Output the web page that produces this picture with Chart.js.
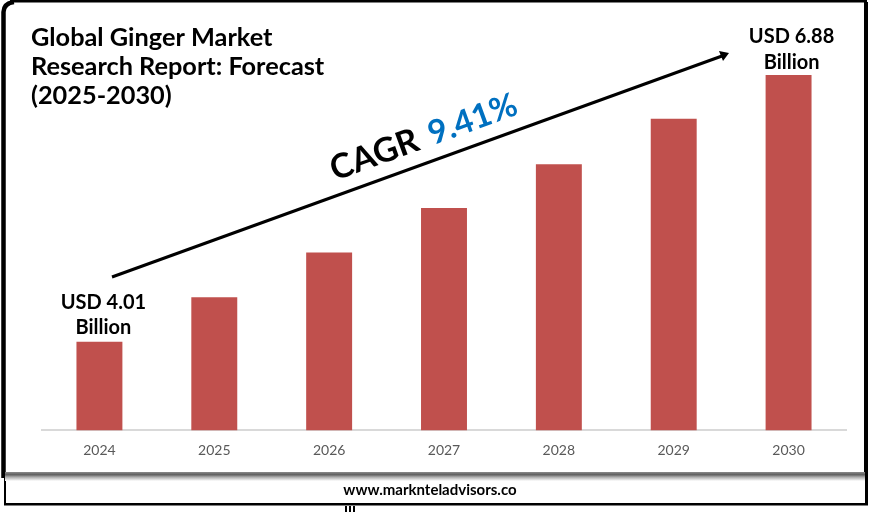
<!DOCTYPE html>
<html>
<head>
<meta charset="utf-8">
<title>Global Ginger Market</title>
<script src="https://cdn.jsdelivr.net/npm/chart.js@4"></script>
<style>
    html, body { margin: 0; padding: 0; background: #fff; }
    #wrap { position: relative; width: 870px; height: 523px; }
</style>
</head>
<body>
<div id="wrap"><canvas id="chart" width="870" height="523"></canvas></div>
<script>
const years = ["2024", "2025", "2026", "2027", "2028", "2029", "2030"];
const marketSize = [4.01, 4.49, 4.97, 5.45, 5.92, 6.41, 6.88];
const titleLines = ["Global Ginger Market", "Research Report: Forecast", "(2025-2030)"];
const firstLabel = ["USD 4.01", "Billion"];
const lastLabel = ["USD 6.88", "Billion"];
const cagrWord = "CAGR";
const cagrValue = "9.41%";
const siteName = "www.marknteladvisors.co";

const FONT = "Lato, 'Open Sans', sans-serif";

function drawLines(ctx, lines, x, y, step) {
    lines.forEach((line, i) => ctx.fillText(line, x, y + i * step));
}

// frame, title, arrow and labels sit on top of the bars
const decorations = {
    id: "decorations",
    afterDatasetsDraw(chart) {
        const ctx = chart.ctx;
        const bars = chart.getDatasetMeta(0).data;
        ctx.save();

        // outer frame: heavy left and right, thin top
        ctx.strokeStyle = "#000";
        ctx.fillStyle = "#000";
        ctx.lineWidth = 4.5;
        ctx.beginPath();
        ctx.moveTo(3.5, 478);
        ctx.lineTo(3.5, 12);
        ctx.quadraticCurveTo(4, 3, 14, 2);
        ctx.stroke();
        ctx.fillRect(10, 0, 857, 2.5);
        ctx.fillRect(864, 2, 4, 475);

        // footer box
        ctx.fillRect(4, 478, 2, 27);
        ctx.fillRect(865, 477, 3, 28);
        ctx.fillRect(4, 503, 864, 2.5);
        ctx.fillRect(345, 506, 2, 6);
        ctx.fillRect(349, 506, 2, 6);
        ctx.fillRect(353, 506, 2, 6);

        // grey shadow under the chart panel
        const shadow = ctx.createLinearGradient(0, 472, 0, 481);
        shadow.addColorStop(0, "#8a8a8a");
        shadow.addColorStop(0.3, "#5f5f5f");
        shadow.addColorStop(0.55, "#a8a8a8");
        shadow.addColorStop(1, "#ffffff");
        ctx.fillStyle = shadow;
        ctx.fillRect(5, 472, 860, 9);

        ctx.fillStyle = "#000";
        ctx.textBaseline = "alphabetic";
        ctx.textAlign = "center";
        ctx.font = "bold 15px " + FONT;
        ctx.fillText(siteName, 430, 495);

        // title
        ctx.textAlign = "left";
        ctx.font = "bold 25.3px " + FONT;
        drawLines(ctx, titleLines, 31, 46, 29);

        // labels above first and last bars
        ctx.textAlign = "center";
        ctx.font = "bold 20px " + FONT;
        drawLines(ctx, firstLabel, bars[0].x + 4, 309, 25);
        drawLines(ctx, lastLabel, bars[6].x + 3, 43, 26);

        // growth arrow
        ctx.strokeStyle = "#000";
        ctx.lineWidth = 3;
        ctx.beginPath();
        ctx.moveTo(112, 277);
        ctx.lineTo(722, 56);
        ctx.stroke();
        ctx.beginPath();
        ctx.moveTo(729, 53);
        ctx.lineTo(719, 51);
        ctx.lineTo(723, 61);
        ctx.closePath();
        ctx.fill();

        // CAGR text follows the arrow
        ctx.translate(335, 181);
        ctx.rotate(-20 * Math.PI / 180);
        ctx.textAlign = "left";
        ctx.font = "bold 34px " + FONT;
        ctx.fillStyle = "#000";
        ctx.fillText(cagrWord, 0, 0);
        const wordWidth = ctx.measureText(cagrWord + " ").width;
        ctx.font = "bold 33px " + FONT;
        ctx.fillStyle = "#0070c0";
        ctx.fillText(cagrValue, wordWidth + 4, 0);

        ctx.restore();
    }
};

new Chart(document.getElementById("chart"), {
    type: "bar",
    data: {
        labels: years,
        datasets: [{
            data: marketSize,
            backgroundColor: "#c0504d",
            barPercentage: 0.4,
            categoryPercentage: 1
        }]
    },
    options: {
        responsive: false,
        animation: false,
        layout: { padding: { left: 42, right: 24, top: 75, bottom: 60 } },
        plugins: { legend: { display: false }, tooltip: { enabled: false } },
        scales: {
            x: {
                grid: { display: false },
                border: { color: "#d9d9d9", width: 2 },
                ticks: { color: "#595959", font: { family: FONT, size: 14 }, padding: 4 }
            },
            y: { display: false, min: 3.06, max: 6.88 }
        }
    },
    plugins: [decorations]
});
</script>
</body>
</html>
